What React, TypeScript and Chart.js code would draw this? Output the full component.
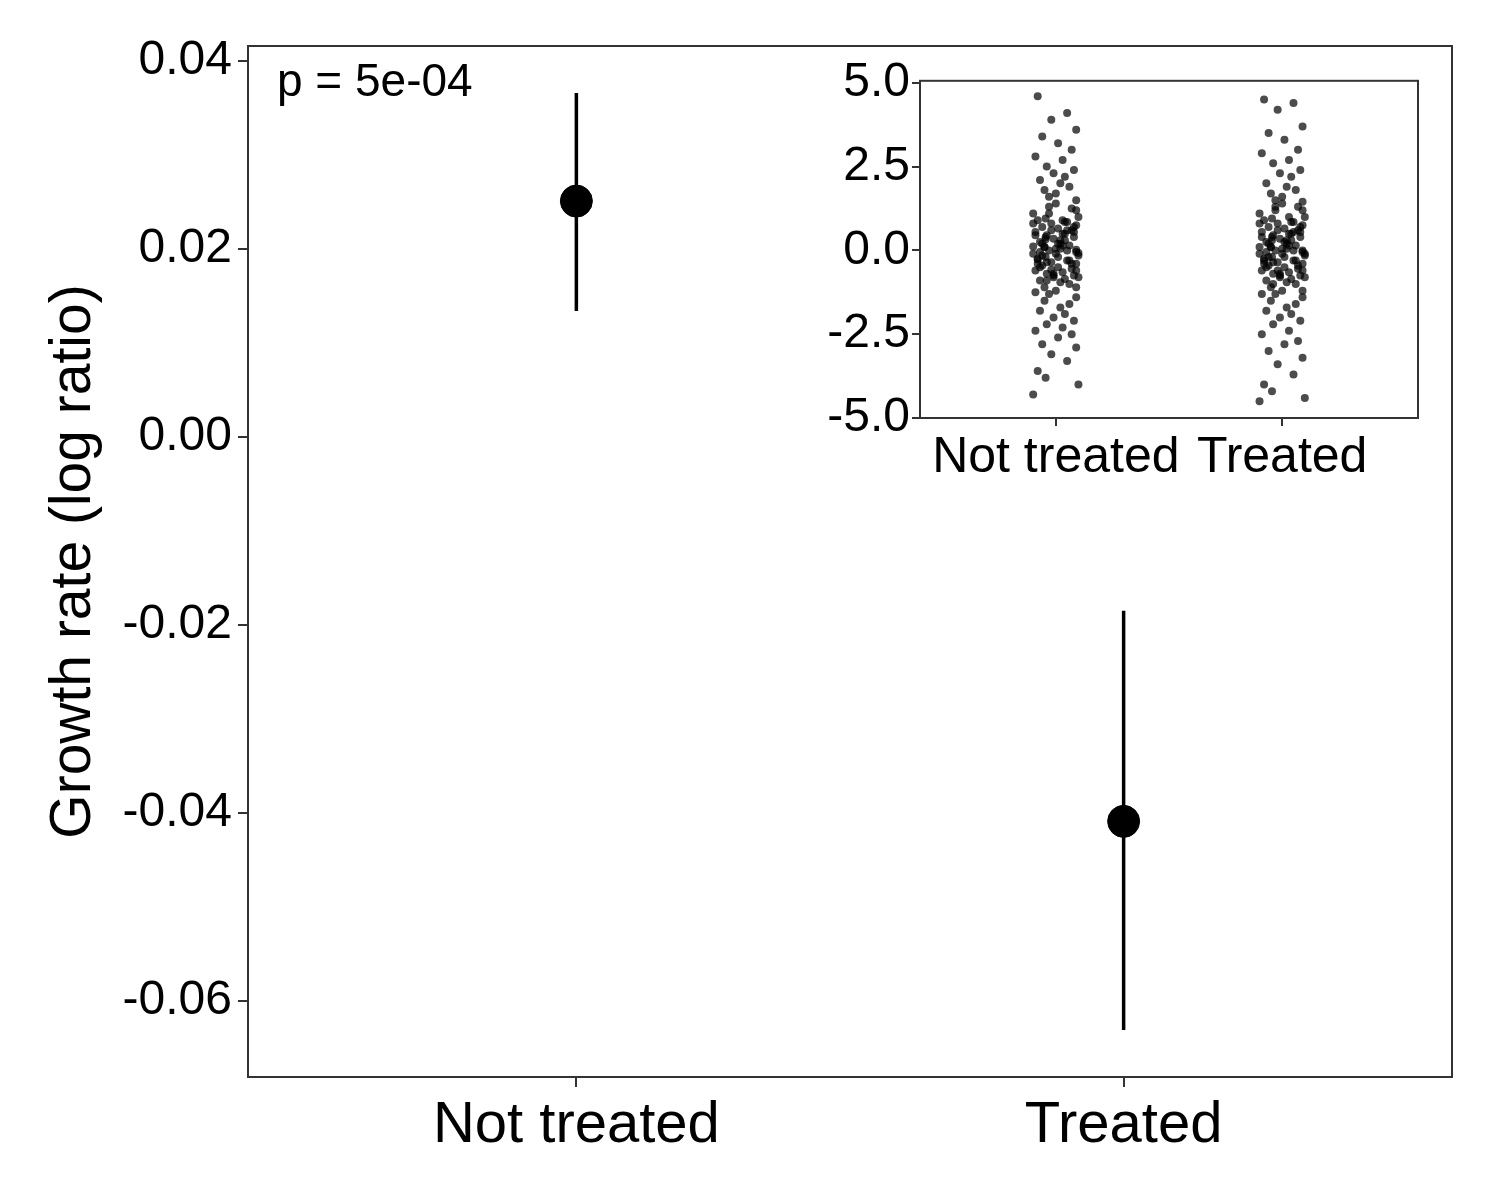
import React, { useEffect, useRef } from "react";
import { Chart, registerables } from "chart.js";
Chart.register(...registerables);

const categories = ["Not treated", "Treated"];
const means = [0.0251, -0.0409];
const lows = [0.0134, -0.0631];
const highs = [0.0366, -0.0185];
const pLabel = "p = 5e-04";

const ntY = [4.6,4.1,3.9,3.6,3.4,3.2,3.0,2.8,2.7,2.5,2.4,2.3,2.2,2.1,2.0,1.9,1.8,1.7,1.6,1.5,
-4.3,-4.0,-3.8,-3.6,-3.3,-3.1,-2.9,-2.8,-2.6,-2.5,-2.4,-2.3,-2.2,-2.1,-2.0,-1.9,-1.8,-1.7,-1.6,-1.5,
1.4,1.3,1.2,1.1,1.0,0.95,0.9,0.85,0.8,0.75,0.7,0.65,0.6,0.55,0.5,0.45,0.4,0.35,0.3,0.25,0.2,0.15,0.1,0.05,0.0,-0.05,-0.1,-0.15,-0.2,-0.25,-0.3,-0.35,-0.4,-0.45,-0.5,-0.55,-0.6,-0.65,-0.7,-0.75,-0.8,-0.85,-0.9,-0.95,-1.0,-1.1,-1.2,-1.3,-1.4,0.12,-0.08,0.33,-0.27,0.6,-0.58,0.02,-0.15,0.2,-0.4,0.45,
0.9,-0.9,0.7,-0.7,0.5,-0.5,0.3,-0.3,0.1,-0.1,1.1,-1.1,0.8,-0.8,0.4,-0.4,0.0,0.6,-0.6,0.2,-0.2,1.25,-1.25,0.15,-0.35,0.55,-0.75,0.85,-0.05,0.05];
const trY = [4.5,4.4,4.2,3.7,3.5,3.3,3.0,2.9,2.7,2.6,2.4,2.3,2.2,2.0,1.9,1.8,1.7,1.6,1.5,1.45,
-4.5,-4.4,-4.2,-4.0,-3.7,-3.4,-3.2,-3.0,-2.8,-2.7,-2.5,-2.4,-2.2,-2.1,-2.0,-1.9,-1.8,-1.7,-1.6,-1.5,
1.4,1.3,1.2,1.1,1.0,0.95,0.9,0.85,0.8,0.75,0.7,0.65,0.6,0.55,0.5,0.45,0.4,0.35,0.3,0.25,0.2,0.15,0.1,0.05,0.0,-0.05,-0.1,-0.15,-0.2,-0.25,-0.3,-0.35,-0.4,-0.45,-0.5,-0.55,-0.6,-0.65,-0.7,-0.75,-0.8,-0.85,-0.9,-0.95,-1.0,-1.1,-1.2,-1.3,-1.4,0.1,-0.1,0.3,-0.3,0.55,-0.6,0.0,-0.2,0.25,-0.45,0.4,
1.0,-1.0,0.7,-0.7,0.5,-0.5,0.3,-0.3,0.1,-0.1,1.2,-1.2,0.8,-0.8,0.4,-0.4,0.0,0.6,-0.6,0.2,-0.2,1.3,-1.3,0.15,-0.35,0.55,-0.75,0.85,-0.05,0.05];
const jitter = [-0.08,0.05,-0.02,0.09,-0.06,0.01,0.07,-0.09,0.03,-0.04,0.08,-0.01,0.04,-0.07,0.02,0.06,-0.05,0.0,-0.03,0.09,-0.1,0.1,-0.045];

const FONT = "'Liberation Sans', Arial, sans-serif";

export default function App() {
  const mainRef = useRef<HTMLCanvasElement>(null);
  const insetRef = useRef<HTMLCanvasElement>(null);
  useEffect(() => {
    const deco = {
      id: "deco",
      afterDatasetsDraw(c: any) {
        const ctx = c.ctx, a = c.chartArea, x = c.scales.x, y = c.scales.y;
        ctx.save();
        ctx.strokeStyle = "#000"; ctx.lineWidth = 3.5;
        means.forEach((_, i) => {
          const px = x.getPixelForValue(i);
          ctx.beginPath(); ctx.moveTo(px, y.getPixelForValue(lows[i])); ctx.lineTo(px, y.getPixelForValue(highs[i])); ctx.stroke();
        });
        ctx.strokeStyle = "#333"; ctx.lineWidth = 2;
        ctx.strokeRect(a.left, a.top, a.right - a.left, a.bottom - a.top);
        ctx.fillStyle = "#000"; ctx.font = `46px ${FONT}`; ctx.textBaseline = "middle";
        ctx.fillText(pLabel, a.left + 29, a.top + 37);
        ctx.restore();
      },
    };
    const tickSpec = (size: number) => ({ color: "#000", font: { size, family: FONT } });
    const main = new Chart(mainRef.current!, {
      type: "scatter",
      data: { datasets: [{ data: means.map((v, i) => ({ x: i, y: v })), pointRadius: 16, backgroundColor: "#000", borderColor: "#000" }] },
      options: {
        animation: false, responsive: false, events: [],
        layout: { padding: { top: 46, right: 48, left: 0, bottom: 0 } },
        plugins: { legend: { display: false }, tooltip: { enabled: false } },
        scales: {
          x: {
            type: "linear", min: -0.6, max: 1.6,
            afterBuildTicks: (s: any) => { s.ticks = [{ value: 0 }, { value: 1 }]; },
            afterFit: (s: any) => { s.height = 123; },
            ticks: { ...tickSpec(58), padding: 4, callback: (v: any) => categories[v] ?? "" },
            grid: { drawOnChartArea: false, tickLength: 10, color: "#333", lineWidth: 2 },
            border: { display: false },
          },
          y: {
            min: -0.0681, max: 0.0416,
            afterBuildTicks: (s: any) => { s.ticks = [0.04, 0.02, 0, -0.02, -0.04, -0.06].map((value) => ({ value })); },
            afterFit: (s: any) => { s.width = 248; },
            ticks: { ...tickSpec(48), padding: 6, callback: (v: any) => Number(v).toFixed(2) },
            grid: { drawOnChartArea: false, tickLength: 10, color: "#333", lineWidth: 2 },
            border: { display: false },
            title: { display: true, text: "Growth rate (log ratio)", color: "#000", font: { size: 57, family: FONT }, padding: { top: 40, bottom: 0 } },
          },
        },
      },
      plugins: [deco],
    } as any);

    const box = {
      id: "box",
      afterDatasetsDraw(c: any) {
        const a = c.chartArea, ctx = c.ctx;
        ctx.save(); ctx.strokeStyle = "#333"; ctx.lineWidth = 2;
        ctx.strokeRect(a.left, a.top, a.right - a.left, a.bottom - a.top); ctx.restore();
      },
    };
    const pts = (ys: number[], cx: number) => ys.map((y, i) => ({ x: cx + jitter[i % jitter.length], y }));
    const inset = new Chart(insetRef.current!, {
      type: "scatter",
      data: { datasets: [
        { data: pts(ntY, 0), pointRadius: 4, borderWidth: 0, backgroundColor: "rgba(0,0,0,0.7)" },
        { data: pts(trY, 1), pointRadius: 4, borderWidth: 0, backgroundColor: "rgba(0,0,0,0.7)" },
      ] },
      options: {
        animation: false, responsive: false, events: [],
        layout: { padding: { top: 30, right: 32, left: 0, bottom: 0 } },
        plugins: { legend: { display: false }, tooltip: { enabled: false } },
        scales: {
          x: {
            type: "linear", min: -0.6, max: 1.6,
            afterBuildTicks: (s: any) => { s.ticks = [{ value: 0 }, { value: 1 }]; },
            afterFit: (s: any) => { s.height = 82; },
            ticks: { ...tickSpec(50), padding: 2, maxRotation: 0, autoSkip: false, callback: (v: any) => categories[v] ?? "" },
            grid: { drawOnChartArea: false, tickLength: 8, color: "#333", lineWidth: 2 },
            border: { display: false },
          },
          y: {
            min: -5.0, max: 5.06,
            afterBuildTicks: (s: any) => { s.ticks = [5, 2.5, 0, -2.5, -5].map((value) => ({ value })); },
            afterFit: (s: any) => { s.width = 120; },
            ticks: { ...tickSpec(48), padding: 2, callback: (v: any) => Number(v).toFixed(1) },
            grid: { drawOnChartArea: false, tickLength: 8, color: "#333", lineWidth: 2 },
            border: { display: false },
          },
        },
      },
      plugins: [box],
    } as any);
    return () => { main.destroy(); inset.destroy(); };
  }, []);
  return (
    <div style={{ position: "absolute", left: 0, top: 0, width: 1500, height: 1200, background: "#fff" }}>
      <canvas ref={mainRef} width={1500} height={1200} style={{ position: "absolute", left: 0, top: 0 }} />
      <canvas ref={insetRef} width={650} height={450} style={{ position: "absolute", left: 800, top: 50 }} />
    </div>
  );
}
